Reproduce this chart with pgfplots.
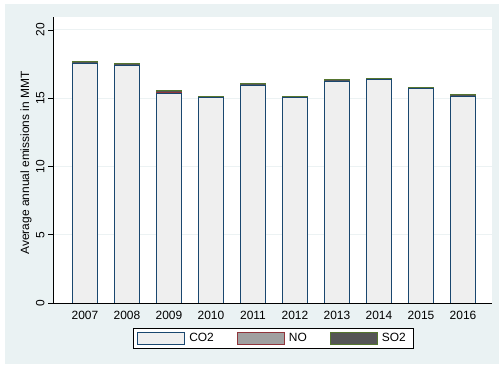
\documentclass[border=0pt]{standalone}
\usepackage{fontspec}
\setmainfont{Liberation Sans}
\usepackage{pgfplots}
\usepackage{pgfplotstable}
\pgfplotsset{compat=1.18}
\definecolor{bgc}{RGB}{234,242,243}
\definecolor{gridc}{RGB}{236,242,243}
\definecolor{navyc}{RGB}{26,71,111}
\definecolor{maroonc}{RGB}{144,53,59}
\definecolor{greenc}{RGB}{85,117,47}
\definecolor{co2fill}{RGB}{239,239,239}
\definecolor{nofill}{RGB}{160,160,160}
\definecolor{so2fill}{RGB}{85,85,85}
\pgfplotstableread{
year co2 no so2
2007 17.56 0.01 0.15
2008 17.40 0.01 0.14
2009 15.38 0.01 0.14
2010 15.02 0.05 0.02
2011 15.95 0.01 0.15
2012 15.03 0.01 0.11
2013 16.21 0.01 0.12
2014 16.36 0.01 0.11
2015 15.70 0.01 0.11
2016 15.11 0.01 0.12
}\datatable
\newcommand\lf{\fontsize{12}{14}\selectfont}
\begin{document}
\begin{tikzpicture}
\fill[white] (0bp,0bp) rectangle (500bp,366bp);
\fill[bgc] (5bp,2bp) rectangle (499bp,362bp);
\begin{axis}[
  at={(53bp,63bp)}, anchor=south west,
  scale only axis, width=439bp, height=286bp,
  axis background/.style={fill=white},
  ybar stacked, bar width=25bp,
  every axis plot/.append style={line width=1bp, legend image code/.code={\draw[##1] (0bp,-6bp) rectangle (47bp,6bp);}},
  xmin=2006.24, xmax=2016.69, ymin=0, ymax=20.95,
  enlargelimits=false,
  axis lines*=left,
  axis line style={-, black, line width=0.8bp},
  xtick={2007,2008,2009,2010,2011,2012,2013,2014,2015,2016},
  ytick={0,5,10,15,20},
  /pgf/number format/1000 sep={},
  /pgf/number format/assume math mode=true,
  xtick style={draw=none},
  ytick style={black, line width=0.8bp},
  tick align=outside, major tick length=5bp,
  ymajorgrids, grid style={gridc, line width=1bp},
  ticklabel style={font=\lf},
  yticklabel style={rotate=90, anchor=south},
  every axis y label/.style={at={(axis description cs:-0.0615,0.49)}, anchor=center, rotate=90, font=\lf},
  ylabel={Average annual emissions in MMT},
  legend columns=3,
  legend style={at={(axis description cs:0.5023,-0.1241)}, anchor=center, draw=black, line width=0.8bp, fill=white, font=\lf, inner xsep=4bp, inner ysep=3bp, /tikz/every even column/.append style={column sep=19bp}, nodes={inner xsep=4bp}},
]
\addplot[fill=co2fill, draw=navyc] table[x=year, y=co2] {\datatable};
\addplot[fill=nofill, draw=maroonc] table[x=year, y=no] {\datatable};
\addplot[fill=so2fill, draw=greenc] table[x=year, y=so2] {\datatable};
\legend{CO2, NO, SO2}
\end{axis}
\end{tikzpicture}
\end{document}
